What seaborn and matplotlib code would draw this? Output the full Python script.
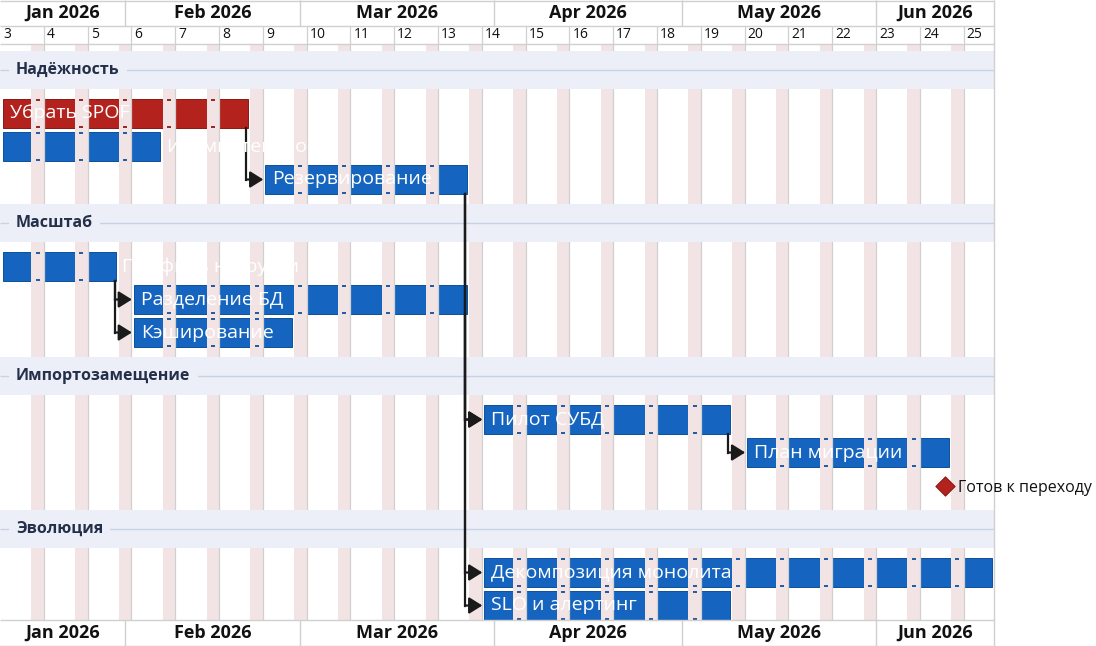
import matplotlib
matplotlib.use("Agg")
import matplotlib.pyplot as plt
import matplotlib.dates as mdates
from matplotlib.patches import Rectangle
import pandas as pd
import seaborn as sns

# ---- data -------------------------------------------------------------
sections = ["Надёжность", "Масштаб", "Импортозамещение", "Эволюция"]

task_names = ["Убрать SPOF", "Идемпотентность", "Резервирование",
              "Профиль нагрузки", "Разделение БД", "Кэширование",
              "Пилот СУБД", "План миграции",
              "Декомпозиция монолита", "SLO и алертинг"]
task_sections = [0, 0, 0, 1, 1, 1, 2, 2, 3, 3]
task_starts = ["2026-01-12", "2026-01-12", "2026-02-23",
               "2026-01-12", "2026-02-02", "2026-02-02",
               "2026-03-30", "2026-05-11",
               "2026-03-30", "2026-03-30"]
task_ends = ["2026-02-21", "2026-02-07", "2026-03-28",
             "2026-01-31", "2026-03-28", "2026-02-28",
             "2026-05-09", "2026-06-13",
             "2026-06-20", "2026-05-09"]
task_crit = [True, False, False, False, False, False, False, False, False, False]

milestone_names = ["Готов к переходу"]
milestone_sections = [2]
milestone_dates = ["2026-06-12"]

dependencies = [("Убрать SPOF", "Резервирование"),
                ("Профиль нагрузки", "Разделение БД"),
                ("Профиль нагрузки", "Кэширование"),
                ("Резервирование", "Пилот СУБД"),
                ("Разделение БД", "Пилот СУБД"),
                ("Резервирование", "Декомпозиция монолита"),
                ("Резервирование", "SLO и алертинг"),
                ("Пилот СУБД", "План миграции")]

# ---- style / layout ----------------------------------------------------
W, H = 1096, 646
CHART_W = 995
MONTH_H, WEEK_H = 26, 18
HEAD = MONTH_H + WEEK_H
FOOT = H - MONTH_H
FIRST_BAND = 51
BAND_H, PAD, ROW_H, BAR_H = 38, 8, 33, 29
INSET = 0.4  # days

GRID = "#d0d0d0"
WEEKEND = "#f2e4e4"
BAND = "#eceff8"
BAND_LINE = "#c8d2e5"
SECTION_TXT = "#24304a"
BLUE, BLUE_EDGE = "#1565c0", "#0e4f9b"
RED, RED_EDGE = "#b3221c", "#8a1913"
ARROW = "#1a1a1a"

sns.set_theme(style="white")
plt.rcParams["font.family"] = ["Open Sans", "DejaVu Sans"]

df = pd.DataFrame({"name": task_names, "section": task_sections,
                   "start": pd.to_datetime(task_starts),
                   "end": pd.to_datetime(task_ends), "crit": task_crit})
df["x0"] = mdates.date2num(df["start"])
df["x1"] = mdates.date2num(df["end"])
ms = pd.DataFrame({"name": milestone_names, "section": milestone_sections,
                   "date": pd.to_datetime(milestone_dates)})
ms["x"] = mdates.date2num(ms["date"])

# vertical layout: rows per section
band_tops, row_y = [], {}
y = FIRST_BAND
for s in range(len(sections)):
    band_tops.append(y)
    items = list(df.loc[df.section == s, "name"]) + list(ms.loc[ms.section == s, "name"])
    for i, nm in enumerate(items):
        row_y[nm] = y + BAND_H + PAD + ROW_H * i + ROW_H / 2
    y += BAND_H + 2 * PAD + ROW_H * len(items)

d0 = df["x0"].min()
d1 = df["x1"].max()
px_day = CHART_W / (d1 - d0)

fig = plt.figure(figsize=(W / 100, H / 100), dpi=100)
ax = fig.add_axes([0, 0, CHART_W / W, 1])

days = pd.date_range(mdates.num2date(d0).date(), mdates.num2date(d1).date(), freq="D")
mondays = [d for d in days if d.weekday() == 0]
saturdays = [d for d in days if d.weekday() == 5]
month_starts = [d for d in days if d.day == 1]

# weekend bands and week lines
for sat in saturdays:
    x = mdates.date2num(sat)
    ax.add_patch(Rectangle((x, HEAD), 2, FOOT - HEAD, color=WEEKEND, lw=0, zorder=2))
mx = mdates.date2num(mondays)
ax.vlines(mx[1:], MONTH_H, FOOT, color=GRID, lw=0.9, zorder=2.2)

# bars
for _, t in df.iterrows():
    yc = row_y[t["name"]]
    fc, ec = (RED, RED_EDGE) if t.crit else (BLUE, BLUE_EDGE)
    ax.barh(yc, t.x1 - t.x0 - 2 * INSET, left=t.x0 + INSET, height=BAR_H,
            color=fc, edgecolor=ec, lw=0.7, zorder=1.5)
    suns = [mdates.date2num(d) + 1 for d in saturdays
            if t.x0 < mdates.date2num(d) + 1 < t.x1]
    for sx in suns:
        ax.plot([sx, sx], [yc - BAR_H / 2 + 1, yc + BAR_H / 2 - 1], ls="none",
                marker="_", ms=2.5, mew=1.3, color=ec, zorder=2.5)

# section bands
for s, top in enumerate(band_tops):
    ax.add_patch(Rectangle((d0, top), d1 - d0, BAND_H, color=BAND, lw=0, zorder=3))
    ax.hlines(top + BAND_H / 2, d0, d1, color=BAND_LINE, lw=1.0, zorder=3.1)
    ax.text(d0 + 16 / px_day, top + BAND_H / 2, sections[s], fontsize=11.5,
            fontweight="bold", color=SECTION_TXT, va="center", ha="left", zorder=3.2,
            bbox=dict(boxstyle="square,pad=0.45", fc=BAND, ec="none"))

# task labels (inside bar if it fits, else right of bar)
renderer = fig.canvas.get_renderer()
for _, t in df.iterrows():
    yc = row_y[t["name"]]
    txt = ax.text(t.x0 + INSET + 7 / px_day, yc, t["name"], color="white",
                  fontsize=14, va="center", ha="left", zorder=6)
    w = txt.get_window_extent(renderer).width
    bar_px = (t.x1 - t.x0 - 2 * INSET) * px_day
    if w + 14 > bar_px:
        txt.set_x(t.x1 - INSET + 6 / px_day)

# dependency arrows
for a, b in dependencies:
    ta = df[df.name == a].iloc[0]
    tb = df[df.name == b].iloc[0]
    vx = ta.x1 - INSET - 1.5 / px_day
    ya = row_y[a] + BAR_H / 2
    yb = row_y[b]
    tip = tb.x0 + INSET - 2 / px_day
    ax.plot([vx, vx], [ya, yb], color=ARROW, lw=1.6, zorder=5,
            solid_capstyle="projecting")
    ax.annotate("", xy=(tip, yb), xytext=(vx, yb),
                arrowprops=dict(arrowstyle="-|>,head_length=8,head_width=5",
                                mutation_scale=1, color=ARROW, lw=1.6,
                                shrinkA=0, shrinkB=0), zorder=5)

# milestones
ms["y"] = [row_y[n] for n in ms["name"]]
sns.scatterplot(data=ms, x="x", y="y", marker="D", s=95, color=RED,
                edgecolor=RED_EDGE, linewidth=0.8, ax=ax, zorder=6, legend=False)
for _, m in ms.iterrows():
    ax.text(m.x + 13 / px_day, m.y + 3, m["name"], fontsize=11.5, color="#111111",
            va="center", ha="left", zorder=6, clip_on=False)

# header / footer month rows and week row
ax.hlines([0.5, MONTH_H, HEAD, FOOT, H - 0.5], d0, d1, color=GRID, lw=1.0, zorder=4)
msx = mdates.date2num(month_starts)
ax.vlines(msx, 0, MONTH_H, color=GRID, lw=1.0, zorder=4)
ax.vlines(msx, FOOT, H, color=GRID, lw=1.0, zorder=4)
ax.vlines(d1 - 0.2, 0, H, color=GRID, lw=1.0, zorder=4, clip_on=False)
bounds = [d0] + list(msx) + [d1]
labels = [mdates.num2date(b).strftime("%b %Y") for b in bounds[:-1]]
for i, lab in enumerate(labels):
    cx = (bounds[i] + bounds[i + 1]) / 2
    for yy in (MONTH_H / 2, FOOT + MONTH_H / 2):
        ax.text(cx, yy, lab, fontsize=13, fontweight="bold", color="#111111",
                ha="center", va="center", zorder=6)
for d in mondays:
    ax.text(mdates.date2num(d) + 3 / px_day, MONTH_H + WEEK_H / 2,
            str(d.isocalendar()[1]), fontsize=10, color="#111111",
            ha="left", va="center", zorder=6)

ax.set_xlim(d0, d1)
ax.set_ylim(H, 0)
ax.axis("off")

fig.savefig("out.png", dpi=100)
